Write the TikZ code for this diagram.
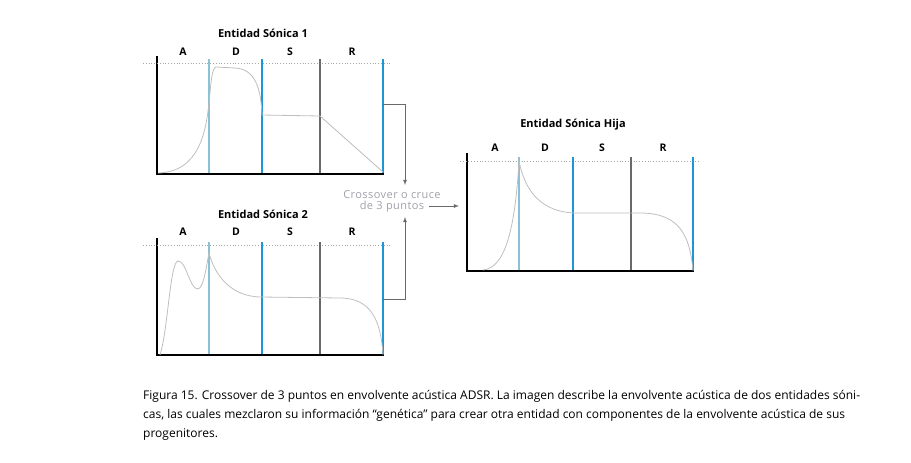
\documentclass[tikz,border=0pt]{standalone}
\usepackage{fontspec}
\setmainfont{Open Sans}
\definecolor{lblue}{RGB}{140,192,212}
\definecolor{sblue}{RGB}{28,150,212}
\definecolor{sgray}{RGB}{105,105,105}
\definecolor{cgray}{RGB}{190,190,190}
\definecolor{tgray}{RGB}{160,160,170}

\begin{document}
\begin{tikzpicture}[x=1pt, y=-1pt,
	axis/.style={line width=2pt, black},
	vline/.style={line width=1.6pt},
	dots/.style={dotted, line width=0.8pt, gray!70},
	env/.style={line width=0.8pt, cgray},
	conn/.style={line width=0.8pt, sgray},
	lbl/.style={font=\bfseries\fontsize{10.5}{11}\selectfont},
	title/.style={font=\bfseries\fontsize{11}{12}\selectfont},
	>=latex]
	\useasboundingbox (0,0) rectangle (911,463);
	%\draw[help lines] (0,0) grid (911,463);
	% Entidad Sonica 1
		\draw[axis] (157,56) |- (384,174);
		\draw[dots] (143,63) -- (390,63);
		\foreach \x/\c in {209/lblue,262/sblue,320/sgray,383/sblue}{
		  \draw[vline,\c] (\x,59) -- (\x,173);
		}
		\foreach \l/\x in {A/183,D/236,S/290,R/352}{
		  \node[lbl] (a\l) at (\x,52) {\l};
		}
		\node[title] (tA) at (263,33) {Entidad Sónica 1};
		\draw[env] (158,173) .. controls (200,172) and (206,130) .. (209,103)
		  .. controls (211,82) and (212,68) .. (216,67) -- (235,68)
		  .. controls (256,69) and (261,90) .. (262,115) -- (320,116) -- (383,172);
	% Entidad Sonica 2
		\draw[axis] (157,238) |- (384,355);
		\draw[dots] (143,245) -- (390,245);
		\foreach \x/\c in {209/lblue,262/sblue,320/sgray,383/sblue}{
		  \draw[vline,\c] (\x,242) -- (\x,354);
		}
		\foreach \l/\x in {A/183,D/236,S/290,R/352}{
		  \node[lbl] (b\l) at (\x,232) {\l};
		}
		\node[title] (tB) at (263,214) {Entidad Sónica 2};
		\draw[env] (160,355) .. controls (168,330) and (170,262) .. (178,261)
		  .. controls (186,260) and (190,290) .. (198,289)
		  .. controls (204,288) and (207,262) .. (209,253)
		  .. controls (214,272) and (228,296) .. (260,297) -- (340,298)
		  .. controls (372,298) and (381,322) .. (383,355);
	% Entidad Sonica Hija
		\draw[axis] (467,153) |- (694,271);
		\draw[dots] (460,161) -- (700,161);
		\foreach \x/\c in {519/lblue,573/sblue,631/sgray,693/sblue}{
		  \draw[vline,\c] (\x,157) -- (\x,270);
		}
		\foreach \l/\x in {A/495,D/545,S/602,R/663}{
		  \node[lbl] (c\l) at (\x,148) {\l};
		}
		\node[title] (tC) at (573,125) {Entidad Sónica Hija};
		\draw[env] (483,270) .. controls (505,268) and (515,230) .. (519,161)
		  .. controls (525,192) and (542,212) .. (575,213) -- (640,213)
		  .. controls (680,213) and (690,236) .. (693,271);
	% crossover
		\node[font=\fontsize{11}{11}\selectfont\addfontfeature{LetterSpace=4}, text=tgray, align=center, inner sep=0pt] (cross) at (392,201) {Crossover o cruce\\de 3 puntos};
		\coordinate (outA) at (383,104);
		\coordinate (inA) at (405,185);
		\coordinate (outB) at (383,299);
		\coordinate (inB) at (405,217);
		\coordinate (xout) at (429,206);
		\coordinate (hin) at (459,206);
		\draw[conn, ->] (outA) -| (inA);
		\draw[conn, ->] (outB) -| (inB);
		\draw[conn, ->] (xout) -- (hin);
	% caption
		\node[anchor=north west, align=left, inner sep=0pt, font=\fontsize{12}{19.2}\selectfont] (cap) at (143,390)
		  {Figura 15. Crossover de 3 puntos en envolvente acústica ADSR. La imagen describe la envolvente acústica de dos entidades sóni-\\
		   cas, las cuales mezclaron su información “genética” para crear otra entidad con componentes de la envolvente acústica de sus\\
		   progenitores.};
\end{tikzpicture}
\end{document}
